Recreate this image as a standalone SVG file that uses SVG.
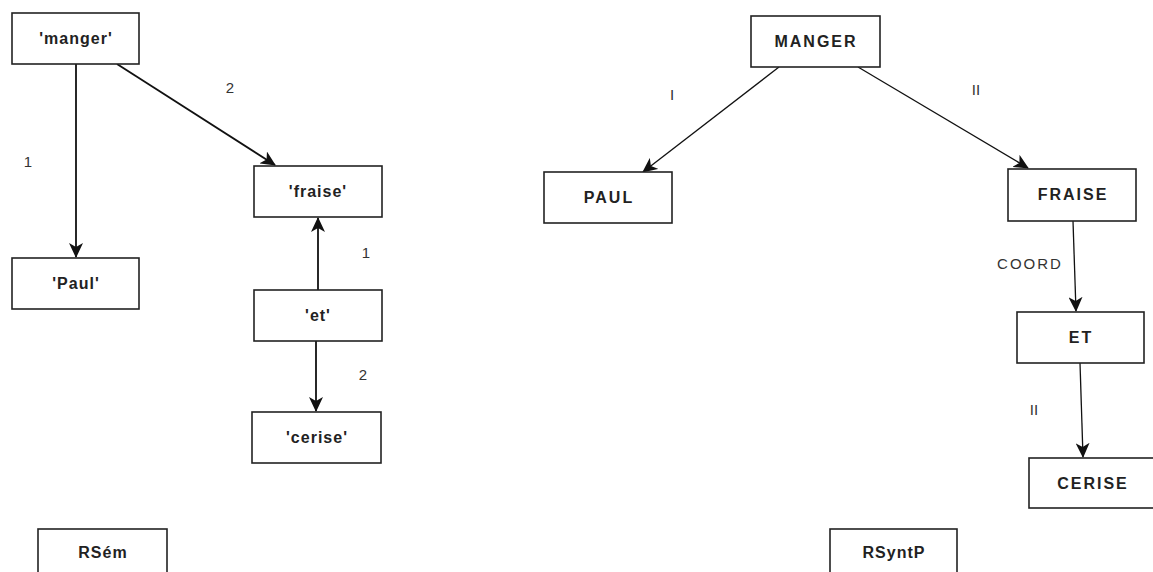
<svg xmlns="http://www.w3.org/2000/svg" width="1153" height="572" viewBox="0 0 1153 572">
<style>
.box{fill:#fff;stroke:#222;stroke-width:1.6}
.t{font-family:"Liberation Sans",Arial,sans-serif;font-weight:bold;font-size:16px;fill:#222;text-anchor:middle;letter-spacing:1px}
.tc{font-family:"Liberation Sans",Arial,sans-serif;font-weight:bold;font-size:16px;fill:#222;text-anchor:middle;letter-spacing:2px}
.lab{font-family:"Liberation Sans",Arial,sans-serif;font-size:15px;fill:#333;text-anchor:middle}
.labc{font-family:"Liberation Sans",Arial,sans-serif;font-size:15px;fill:#333;text-anchor:middle;letter-spacing:2px}
.e{stroke:#111;stroke-width:1.8;fill:none}
.e2{stroke:#111;stroke-width:1.3;fill:none}
</style>
<defs>
<marker id="ah" markerUnits="userSpaceOnUse" markerWidth="15" markerHeight="14" refX="14" refY="7" orient="auto">
<path d="M0,0 L15,7 L0,14 L4,7 z" fill="#111"/>
</marker>
</defs>
<rect width="1153" height="572" fill="#fff"/>
<g id="connectors">
<line class="e" x1="76" y1="64" x2="76" y2="257" marker-end="url(#ah)"/>
<line class="e" x1="117" y1="64" x2="275" y2="165" marker-end="url(#ah)"/>
<line class="e" x1="318" y1="290" x2="318" y2="218" marker-end="url(#ah)"/>
<line class="e" x1="316" y1="341" x2="316" y2="411" marker-end="url(#ah)"/>
<line class="e2" x1="779" y1="67" x2="643" y2="172" marker-end="url(#ah)"/>
<line class="e2" x1="858" y1="67" x2="1028" y2="168" marker-end="url(#ah)"/>
<line class="e2" x1="1073" y1="221" x2="1076" y2="311" marker-end="url(#ah)"/>
<line class="e2" x1="1080" y1="363" x2="1083" y2="457" marker-end="url(#ah)"/>
<text class="lab" x="28" y="167">1</text>
<text class="lab" x="230" y="93">2</text>
<text class="lab" x="366" y="258">1</text>
<text class="lab" x="363" y="380">2</text>
<text class="lab" x="672" y="100">I</text>
<text class="lab" x="976" y="95">II</text>
<text class="labc" x="1030" y="269">COORD</text>
<text class="lab" x="1034" y="415">II</text>
</g>
<g id="n-manger"><rect class="box" x="12" y="13" width="127" height="51"/><text class="t" x="76" y="44">'manger'</text></g>
<g id="n-paul"><rect class="box" x="12" y="258" width="127" height="51"/><text class="t" x="76" y="289">'Paul'</text></g>
<g id="n-fraise"><rect class="box" x="254" y="166" width="128" height="51"/><text class="t" x="318" y="197">'fraise'</text></g>
<g id="n-et"><rect class="box" x="254" y="290" width="128" height="51"/><text class="t" x="318" y="321">'et'</text></g>
<g id="n-cerise"><rect class="box" x="252" y="412" width="129" height="51"/><text class="t" x="317" y="443">'cerise'</text></g>
<g id="n-rsem"><rect class="box" x="38" y="529" width="129" height="60"/><text class="t" x="103" y="558">RSém</text></g>
<g id="n-MANGER"><rect class="box" x="751" y="16" width="129" height="51"/><text class="tc" x="816" y="47">MANGER</text></g>
<g id="n-PAUL"><rect class="box" x="544" y="172" width="128" height="51"/><text class="tc" x="609" y="203">PAUL</text></g>
<g id="n-FRAISE"><rect class="box" x="1008" y="169" width="128" height="52"/><text class="tc" x="1073" y="200">FRAISE</text></g>
<g id="n-ET"><rect class="box" x="1017" y="312" width="127" height="51"/><text class="tc" x="1081" y="343">ET</text></g>
<g id="n-CERISE"><rect class="box" x="1029" y="458" width="127" height="50"/><text class="tc" x="1093" y="489">CERISE</text></g>
<g id="n-rsyntp"><rect class="box" x="830" y="529" width="127" height="60"/><text class="t" x="894" y="558">RSyntP</text></g>
</svg>
